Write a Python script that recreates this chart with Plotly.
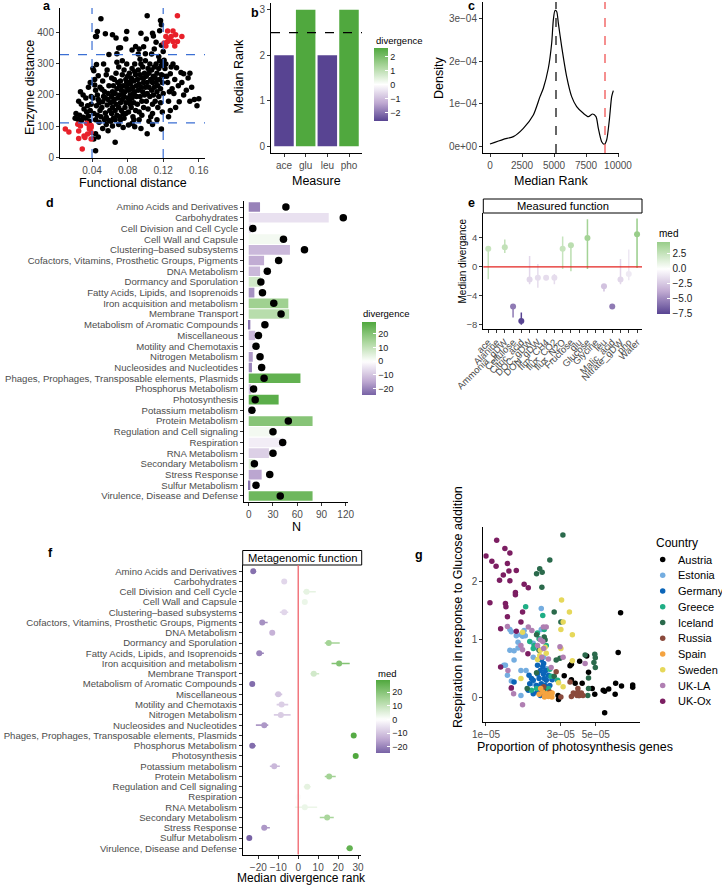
import plotly.graph_objects as go

# ------------------------------------------------------------------ data
# panel a : functional vs enzyme distance
a_black = [
    (0.050, 445), (0.102, 455), (0.117, 440), (0.044, 388), (0.046, 404), (0.055, 397), (0.063, 394),
    (0.067, 383), (0.079, 404), (0.078, 380), (0.095, 399), (0.108, 399), (0.109, 390), (0.116, 407),
    (0.118, 426), (0.101, 380), (0.059, 330), (0.070, 351), (0.089, 356), (0.093, 348), (0.100, 333),
    (0.110, 348), (0.115, 324), (0.045, 388), (0.072, 352), (0.098, 355), (0.112, 370), (0.118, 360),
    (0.120, 340), (0.068, 333), (0.092, 332), (0.107, 332), (0.085, 345),
    (0.041, 285), (0.042, 278), (0.043, 250), (0.044, 215), (0.046, 200), (0.047, 185), (0.045, 165),
    (0.048, 175), (0.042, 140), (0.046, 135), (0.049, 150), (0.044, 120), (0.048, 112), (0.043, 232),
    (0.047, 262), (0.049, 225), (0.041, 190), (0.045, 298), (0.050, 130),
    (0.038, 240), (0.036, 225), (0.027, 210), (0.030, 200), (0.033, 190), (0.039, 195), (0.025, 180),
    (0.028, 170), (0.035, 165), (0.039, 170), (0.022, 140), (0.026, 135), (0.030, 128), (0.034, 145),
    (0.038, 150), (0.024, 122), (0.028, 118), (0.033, 125), (0.037, 115), (0.021, 125), (0.031, 155),
    (0.036, 132),
    (0.044, 20), (0.066, 48), (0.047, 65), (0.052, 92), (0.058, 85), (0.063, 100), (0.070, 105),
    (0.075, 95), (0.081, 103), (0.088, 98), (0.095, 92), (0.102, 75), (0.118, 90), (0.044, 75),
    (0.042, 58), (0.056, 105), (0.085, 108), (0.108, 105),
    (0.051, 160), (0.052, 178), (0.053, 195), (0.054, 210), (0.055, 142), (0.056, 128), (0.057, 168),
    (0.058, 185), (0.059, 230), (0.052, 245), (0.054, 120), (0.056, 265), (0.058, 205), (0.060, 150),
    (0.053, 300), (0.057, 280), (0.059, 118), (0.055, 190), (0.051, 218),
    (0.061, 115), (0.061, 175), (0.062, 195), (0.062, 140), (0.063, 210), (0.063, 160), (0.064, 125),
    (0.064, 230), (0.065, 185), (0.065, 250), (0.066, 150), (0.066, 205), (0.067, 170), (0.067, 270),
    (0.068, 135), (0.068, 220), (0.069, 190), (0.069, 240), (0.070, 160), (0.070, 290), (0.062, 255),
    (0.066, 120), (0.068, 305), (0.064, 180),
    (0.071, 130), (0.071, 200), (0.072, 175), (0.072, 245), (0.073, 150), (0.073, 215), (0.074, 185),
    (0.074, 265), (0.075, 140), (0.075, 230), (0.076, 195), (0.076, 280), (0.077, 160), (0.077, 210),
    (0.078, 250), (0.078, 175), (0.079, 225), (0.079, 300), (0.080, 190), (0.080, 260), (0.072, 120),
    (0.076, 125), (0.074, 310), (0.078, 140), (0.071, 230), (0.075, 205), (0.079, 240),
    (0.081, 145), (0.081, 215), (0.082, 180), (0.082, 270), (0.083, 235), (0.083, 200), (0.084, 160),
    (0.084, 255), (0.085, 190), (0.085, 285), (0.086, 225), (0.086, 130), (0.087, 245), (0.087, 175),
    (0.088, 210), (0.088, 300), (0.089, 265), (0.089, 150), (0.090, 230), (0.090, 195), (0.082, 240),
    (0.084, 220), (0.086, 205), (0.088, 275), (0.083, 170), (0.087, 120), (0.085, 250),
    (0.091, 170), (0.091, 250), (0.092, 215), (0.092, 280), (0.093, 145), (0.093, 235), (0.094, 195),
    (0.094, 265), (0.095, 225), (0.095, 300), (0.096, 180), (0.096, 255), (0.097, 210), (0.097, 290),
    (0.098, 160), (0.098, 240), (0.099, 270), (0.099, 200), (0.100, 225), (0.100, 310), (0.093, 120),
    (0.096, 135), (0.094, 315), (0.098, 255),
    (0.101, 180), (0.101, 260), (0.102, 240), (0.102, 205), (0.103, 285), (0.103, 155), (0.104, 225),
    (0.104, 270), (0.105, 195), (0.105, 300), (0.106, 250), (0.106, 130), (0.107, 215), (0.107, 280),
    (0.108, 170), (0.108, 240), (0.109, 260), (0.109, 200), (0.110, 290), (0.110, 225), (0.104, 115),
    (0.108, 140),
    (0.111, 180), (0.111, 255), (0.112, 240), (0.112, 300), (0.113, 210), (0.113, 270), (0.114, 160),
    (0.114, 230), (0.115, 285), (0.115, 195), (0.116, 250), (0.116, 310), (0.117, 220), (0.117, 175),
    (0.118, 265), (0.118, 295), (0.119, 240), (0.120, 205), (0.120, 300), (0.121, 312), (0.121, 260),
    (0.119, 145), (0.122, 285), (0.113, 120),
    (0.131, 300), (0.135, 288), (0.140, 272), (0.143, 268), (0.150, 270), (0.148, 255), (0.141, 240),
    (0.133, 250), (0.128, 268), (0.125, 240), (0.137, 230), (0.146, 215), (0.152, 225), (0.155, 185),
    (0.160, 188), (0.158, 165), (0.150, 180), (0.143, 200), (0.130, 220), (0.127, 210), (0.132, 205),
    (0.138, 178), (0.126, 180), (0.124, 260), (0.123, 300), (0.129, 290), (0.134, 160), (0.128, 150),
    (0.126, 130),
]
a_red = [
    (0.136, 455), (0.125, 406), (0.131, 406), (0.123, 388), (0.129, 388), (0.134, 394), (0.141, 388),
    (0.125, 372), (0.121, 367), (0.131, 372), (0.136, 372), (0.123, 358), (0.133, 358), (0.127, 380),
    (0.010, 90), (0.014, 81), (0.024, 106), (0.027, 100), (0.034, 109), (0.039, 102), (0.039, 95),
    (0.037, 90), (0.025, 84), (0.039, 79), (0.031, 68), (0.035, 74), (0.025, 60), (0.032, 63),
    (0.039, 58), (0.029, 26), (0.037, 98),
]
a_x_cuts = [0.04, 0.12]
a_y_cuts = [110, 330]

# panel b : median rank per measure
b_measures = ["ace", "glu", "leu", "pho"]
b_rank = [2, 3, 2, 3]
b_divergence = [-2.6, 2.6, -2.6, 2.6]
b_threshold = 2.5

# panel c : density of median rank
c_rank = [0, 1042, 1823, 2604, 3385, 3906, 4167, 4557, 4818, 4948, 5078, 5208, 5339, 5599, 5990,
          6380, 6771, 7292, 7682, 8021, 8281, 8464, 8724, 8932, 9114, 9323, 9505, 9635]
c_density = [0.047e-4, 0.158e-4, 0.221e-4, 0.418e-4, 0.733e-4, 1.166e-4, 1.363e-4, 1.836e-4, 2.427e-4,
             2.979e-4, 3.199e-4, 3.176e-4, 2.900e-4, 2.348e-4, 1.639e-4, 1.166e-4, 0.930e-4, 0.772e-4,
             0.693e-4, 0.756e-4, 0.693e-4, 0.418e-4, 0.102e-4, 0.039e-4, 0.142e-4, 0.615e-4, 1.166e-4,
             1.308e-4]
c_median_rank = 5156
c_observed_rank = 8984

# panel d / f : subsystem categories
subsystems = [
    "Amino Acids and Derivatives", "Carbohydrates", "Cell Division and Cell Cycle", "Cell Wall and Capsule",
    "Clustering–based subsystems", "Cofactors, Vitamins, Prosthetic Groups, Pigments", "DNA Metabolism",
    "Dormancy and Sporulation", "Fatty Acids, Lipids, and Isoprenoids", "Iron acquisition and metabolism",
    "Membrane Transport", "Metabolism of Aromatic Compounds", "Miscellaneous", "Motility and Chemotaxis",
    "Nitrogen Metabolism", "Nucleosides and Nucleotides",
    "Phages, Prophages, Transposable elements, Plasmids", "Phosphorus Metabolism", "Photosynthesis",
    "Potassium metabolism", "Protein Metabolism", "Regulation and Cell signaling", "Respiration",
    "RNA Metabolism", "Secondary Metabolism", "Stress Response", "Sulfur Metabolism",
    "Virulence, Disease and Defense",
]
d_bar_n = [14, 99, 3, 42, 51, 19, 14, 15, 7, 49, 50, 2, 8, 6, 5, 4, 64, 3, 37, 2, 79, 32, 42, 25, 8, 16, 2, 79]
d_point_n = [46, 117, 5, 43, 69, 37, 23, 15, 17, 31, 40, 20, 12, 9, 14, 16, 19, 6, 8, 4, 49, 30, 42, 30, 7, 26, 9, 39]
d_divergence = [-20, -5, -5, 2, -12, -14, -12, 8, -18, 16, 12, -22, -12, -3, -17, -20, 26, -12, 27, -4,
                20, 2, -3, -8, 6, -15, -22, 24]

f_med = [-22.5, -7, 4.2, 3.3, -7, -18, -13, 15.3, -19.5, 20.5, 7.8, -23, -10, -8.3, -8.7, -17, 27.8, -23,
         28.8, -12, 15.5, 4.5, 0, 3.3, 14.5, -17, -24.5, 25.8]
f_lo = [-23.5, -7.5, 2.5, 2.8, -9.2, -19, -13.5, 13.3, -20.8, 16.7, 6.2, -24.2, -11.7, -10.8, -12.2, -21.2,
        27.5, -24.2, 28.5, -14.2, 13.3, 2.8, -1.7, -1.7, 10.8, -18.3, -25, 24.2]
f_hi = [-21.5, -6.5, 8.8, 4.0, -5, -15.3, -12.5, 20.8, -17.2, 25.8, 10.5, -21.7, -8, -5, -3.8, -15, 28.2,
        -21.3, 29.2, -9.2, 18.8, 6.2, 2.8, 9.5, 17.8, -14.2, -24, 27.2]

# panel e : measured function
e_measures = ["ace", "Alanine", "Ammonia_gDW", "Cellulose", "Citric_acid", "DOC_gDW", "DON_gDW", "flux_CH4",
              "flux_CO2", "flux_N2O", "Fructose", "glu", "Glucose", "Glycine", "leu", "Malic_acid",
              "Nitrate_gDW", "pho", "Water"]
e_med = [2.5, 0.0, 2.7, -5.5, -7.5, -1.75, -1.5, -1.5, -1.5, 2.5, 3.0, 0.0, 4.0, 0.0, -2.7, -5.5, -1.75, -1.0, 4.5]
e_lo = [-1.7, -2.6, 1.9, -7.0, -8.0, -2.4, -2.9, -1.85, -2.4, -0.3, -0.6, -2.4, -0.3, -1.7, -3.4, -5.8, -2.4,
        -1.85, -0.15]
e_hi = [2.9, 2.4, 3.8, -5.3, -6.3, 1.5, 0.4, -1.2, -1.0, 4.2, 3.3, 2.9, 6.6, 2.4, -2.4, -5.2, 1.1, 2.4, 6.7]

# panel g : photosynthesis genes vs respiration
g_countries = ["Austria", "Estonia", "Germany", "Greece", "Iceland", "Russia", "Spain", "Sweden", "UK-LA", "UK-Ox"]
g_austria = [(7.2e-5, 1.47), (6.95e-5, 0.78), (4.38e-5, 0.72), (3.95e-5, 0.63), (3.43e-5, 0.55), (3.5e-5, 0.58),
             (3.15e-5, 0.38), (3.5e-5, 0.31), (3.7e-5, 0.25), (4.1e-5, 0.25), (4.5e-5, 0.44), (4.75e-5, 0.16),
             (4.93e-5, 0.06), (5.58e-5, 0.13), (5.7e-5, 0.11), (6.05e-5, 0.15), (6.7e-5, 0.25), (6.65e-5, 0.06),
             (7.3e-5, 0.20), (8.6e-5, 0.22), (8.6e-5, 0.18), (3.9e-5, 0.04), (2.9e-5, -0.03), (5.7e-5, -0.26),
             (2.88e-5, 0.04)]
g_estonia = [(2.25e-5, 1.54), (1.42e-5, 1.18), (1.45e-5, 1.14), (1.56e-5, 1.07), (1.67e-5, 1.09), (1.75e-5, 1.16),
             (1.71e-5, 1.06), (1.78e-5, 1.07), (1.42e-5, 0.82), (1.51e-5, 0.81), (1.6e-5, 0.96), (1.6e-5, 0.86),
             (1.30e-5, 0.56), (1.33e-5, 0.56), (1.51e-5, 0.65), (1.37e-5, 0.39), (1.67e-5, 0.47), (1.67e-5, 0.04),
             (1.45e-5, 0.29), (2.0e-5, 0.70), (2.13e-5, 0.86), (2.25e-5, 1.18), (2.0e-5, 0.94), (2.44e-5, 0.50),
             (2.33e-5, 0.70), (1.80e-5, 0.47), (2.0e-5, 0.24), (2.5e-5, 0.33)]
g_germany = [(1.51e-5, 0.27), (1.88e-5, 0.39), (1.9e-5, 0.24), (2.0e-5, 0.30), (2.1e-5, 0.21), (2.13e-5, 0.41),
             (2.18e-5, 0.33), (2.22e-5, 0.47), (2.25e-5, 0.24), (2.3e-5, 0.54), (2.32e-5, 0.41), (2.35e-5, 0.33),
             (2.4e-5, 0.47), (2.42e-5, 0.30), (2.5e-5, 0.39), (2.55e-5, 0.21), (2.13e-5, 0.10), (2.22e-5, 0.04),
             (2.0e-5, 0.07), (2.3e-5, 0.14), (1.86e-5, 0.13), (2.33e-5, 0.59), (2.25e-5, 0.65), (2.64e-5, 0.31),
             (2.13e-5, 0.56), (2.38e-5, 0.21), (1.95e-5, 0.33), (2.53e-5, 0.10), (2.2e-5, 0.18)]
g_greece = [(1.79e-5, 1.57), (2.3e-5, 1.42), (2.13e-5, 1.12), (2.35e-5, 1.18), (1.9e-5, 0.97), (2.0e-5, 0.85),
            (2.03e-5, 0.90), (2.18e-5, 1.02), (2.42e-5, 0.90), (2.55e-5, 0.49), (2.6e-5, 0.37), (1.95e-5, 0.13),
            (2.33e-5, 0.10), (2.5e-5, 0.16), (2.86e-5, 0.30), (2.1e-5, 0.16)]
g_iceland = [(3.09e-5, 2.81), (2.55e-5, 2.38), (2.10e-5, 2.14), (2.20e-5, 2.23), (2.28e-5, 2.17), (2.27e-5, 1.91),
             (2.72e-5, 1.48), (3.00e-5, 1.31), (2.10e-5, 1.09), (2.35e-5, 1.05), (2.38e-5, 1.00), (2.18e-5, 0.82),
             (2.80e-5, 0.65), (2.96e-5, 0.68), (4.28e-5, 0.74), (4.93e-5, 0.75), (4.97e-5, 0.69), (4.87e-5, 0.61),
             (4.97e-5, 0.52), (4.50e-5, 0.34), (4.50e-5, 0.16), (4.45e-5, 0.04), (2.10e-5, 0.43), (2.72e-5, 0.37),
             (2.33e-5, 0.13), (1.83e-5, 0.16)]
g_russia = [(2.22e-5, 0.07), (2.33e-5, 0.19), (2.55e-5, 0.10), (2.8e-5, 0.45), (3.43e-5, 0.27), (3.5e-5, 0.02),
            (3.6e-5, 0.08), (3.7e-5, 0.07), (3.8e-5, 0.04), (3.85e-5, 0.10), (3.95e-5, 0.04), (4.05e-5, 0.08),
            (4.15e-5, 0.04), (3.85e-5, 0.16), (3.0e-5, 0.01)]
g_spain = [(2.23e-5, 0.16), (2.3e-5, 0.10), (2.38e-5, 0.04), (2.42e-5, 0.07), (2.5e-5, 0.02), (2.55e-5, 0.07),
           (2.6e-5, 0.04), (2.64e-5, 0.08), (2.36e-5, 0.01), (2.18e-5, 0.06), (2.63e-5, 0.01)]
g_sweden = [(3.03e-5, 1.69), (3.4e-5, 1.48), (3.1e-5, 1.31), (3.0e-5, 1.18), (3.55e-5, 1.09), (3.0e-5, 0.85),
            (2.2e-5, 0.73), (2.38e-5, 0.87), (3.55e-5, 0.64), (3.1e-5, 0.19), (1.67e-5, 0.33), (2.22e-5, 0.82),
            (1.71e-5, 1.13), (2.42e-5, 0.77), (2.9e-5, 0.26), (2.13e-5, 0.66)]
g_ukla = [(1.37e-5, 1.23), (1.67e-5, 0.90), (1.86e-5, 1.22), (1.96e-5, 1.16), (2.22e-5, 1.0), (2.3e-5, 0.97),
          (2.32e-5, 1.22), (2.42e-5, 1.22), (2.27e-5, 0.70), (2.13e-5, 0.90), (2.33e-5, 0.85), (2.6e-5, 0.52),
          (1.71e-5, -0.12), (1.45e-5, 0.16), (1.5e-5, 0.07), (1.38e-5, 0.47), (2.96e-5, 0.88), (3.1e-5, 0.70),
          (4.28e-5, 0.59), (1.71e-5, 0.83), (2.5e-5, 0.67)]
g_ukox = [(1.17e-5, 2.72), (1.32e-5, 2.58), (1.00e-5, 2.45), (1.42e-5, 2.50), (1.09e-5, 2.36), (1.16e-5, 2.27),
          (1.37e-5, 2.32), (1.29e-5, 2.12), (1.40e-5, 2.19), (1.56e-5, 2.20), (1.22e-5, 2.03), (1.42e-5, 2.02),
          (1.75e-5, 1.96), (1.86e-5, 1.90), (1.06e-5, 1.64), (1.33e-5, 1.63), (1.34e-5, 1.57), (1.54e-5, 1.82),
          (1.54e-5, 1.78), (1.37e-5, 1.40), (1.71e-5, 1.48), (1.67e-5, 1.31), (1.24e-5, 1.19), (1.56e-5, 1.15),
          (1.24e-5, 0.53), (1.45e-5, 0.17), (1.85e-5, 0.76)]
g_data = [g_austria, g_estonia, g_germany, g_greece, g_iceland, g_russia, g_spain, g_sweden, g_ukla, g_ukox]

# ------------------------------------------------------------------ styling helpers
W, H = 722, 885
FONT = "Liberation Sans, Arial, Helvetica, sans-serif"
TICK_FONT = dict(size=10, color="#4d4d4d", family=FONT)
CAT_FONT = dict(size=9.6, color="#4d4d4d", family=FONT)
g_palette = ["#000000", "#74ADE0", "#0B65B8", "#1FAE85", "#2B6A4C", "#8B4A3C", "#F4A340", "#E6D85A",
             "#B07FB2", "#7C1E62"]

P_END, P_MID = (88, 68, 146), (192, 170, 210)
G_END, G_MID = (80, 168, 62), (170, 214, 156)


def div_color(v, vmax):
    t = max(-1.0, min(1.0, v / vmax))
    a = abs(t)
    mid, end = (G_MID, G_END) if t >= 0 else (P_MID, P_END)
    if a <= 0.5:
        s = a / 0.5
        c = [255 + (m - 255) * s for m in mid]
    else:
        s = (a - 0.5) / 0.5
        c = [m + (e - m) * s for m, e in zip(mid, end)]
    return "rgb(%d,%d,%d)" % tuple(int(round(x)) for x in c)


def div_scale(lo, hi, n=41):
    vmax = max(abs(lo), abs(hi))
    return [[i / (n - 1), div_color(lo + (hi - lo) * i / (n - 1), vmax)] for i in range(n)]


def dx(a, b):
    return [a / W, b / W]


def dy(top, bottom):
    return [1 - bottom / H, 1 - top / H]


def axis(domain, rng, anchor, **kw):
    d = dict(domain=domain, range=rng, anchor=anchor, showline=True, linecolor="black", linewidth=1,
             ticks="outside", ticklen=3, tickwidth=1, tickcolor="#333333", tickfont=TICK_FONT,
             showgrid=False, zeroline=False, fixedrange=True, automargin=False)
    d.update(kw)
    return d


def cbar(x_left, y_top, length, thick, tickvals, fmt=None, size=9):
    c = dict(x=x_left / W, xanchor="left", y=1 - y_top / H, yanchor="top", len=length, lenmode="pixels",
             thickness=thick, thicknessmode="pixels", xpad=0, ypad=0, outlinewidth=0, tickvals=tickvals,
             ticks="inside", ticklen=3, tickcolor="white", tickfont=dict(size=size, color="#1a1a1a", family=FONT),
             title=dict(text=""))
    if fmt:
        c["tickformat"] = fmt
    return c


annotations = []


def txt(x, y, s, size=12.5, angle=0, xanchor="center", bold=False, color="black"):
    annotations.append(dict(x=x / W, y=1 - y / H, xref="paper", yref="paper",
                            text=("<b>%s</b>" % s) if bold else s, showarrow=False, textangle=angle,
                            font=dict(size=size, color=color, family=FONT), xanchor=xanchor, yanchor="middle"))


shapes = []
fig = go.Figure()

# ------------------------------------------------------------------ panel a
fig.add_trace(go.Scatter(x=[p[0] for p in a_black], y=[p[1] for p in a_black], mode="markers",
                         marker=dict(color="black", size=5.5), xaxis="x", yaxis="y"))
fig.add_trace(go.Scatter(x=[p[0] for p in a_red], y=[p[1] for p in a_red], mode="markers",
                         marker=dict(color="#E8202A", size=5.5), xaxis="x", yaxis="y"))
for v in a_x_cuts:
    shapes.append(dict(type="line", xref="x", yref="y domain", x0=v, x1=v, y0=0, y1=1,
                       line=dict(color="#3B6FD4", width=1.2, dash="dash")))
for v in a_y_cuts:
    shapes.append(dict(type="line", xref="x domain", yref="y", x0=0, x1=1, y0=v, y1=v,
                       line=dict(color="#3B6FD4", width=1.2, dash="dash")))

# ------------------------------------------------------------------ panel b
fig.add_trace(go.Bar(x=b_measures, y=b_rank, width=0.9, xaxis="x2", yaxis="y2",
                     marker=dict(color=b_divergence, coloraxis="coloraxis", line=dict(width=0))))
shapes.append(dict(type="line", xref="x2 domain", yref="y2", x0=0, x1=1, y0=b_threshold, y1=b_threshold,
                   line=dict(color="black", width=1.2, dash="dash")))

# ------------------------------------------------------------------ panel c
fig.add_trace(go.Scatter(x=c_rank, y=c_density, mode="lines", line=dict(color="black", width=1.2, shape="spline",
                                                                        smoothing=0.7),
                         xaxis="x3", yaxis="y3"))
shapes.append(dict(type="line", xref="x3", yref="y3 domain", x0=c_median_rank, x1=c_median_rank, y0=0, y1=1,
                   line=dict(color="black", width=1.2, dash="dash")))
shapes.append(dict(type="line", xref="x3", yref="y3 domain", x0=c_observed_rank, x1=c_observed_rank, y0=0, y1=1,
                   line=dict(color="#F26B6B", width=1.5, dash="dash")))

# ------------------------------------------------------------------ panel d
fig.add_trace(go.Bar(y=subsystems, x=d_bar_n, orientation="h", width=0.9, xaxis="x4", yaxis="y4",
                     marker=dict(color=d_divergence, coloraxis="coloraxis2", line=dict(width=0))))
fig.add_trace(go.Scatter(y=subsystems, x=d_point_n, mode="markers", marker=dict(color="black", size=7.5),
                         xaxis="x4", yaxis="y4"))

# ------------------------------------------------------------------ panel e
E_MIN, E_MAX = -7.5, 4.5
for m, md, lo, hi in zip(e_measures, e_med, e_lo, e_hi):
    fig.add_trace(go.Scatter(x=[m, m], y=[lo, hi], mode="lines",
                             line=dict(color=div_color(md, max(abs(E_MIN), abs(E_MAX))), width=1.5),
                             xaxis="x5", yaxis="y5"))
shapes.append(dict(type="line", xref="x5 domain", yref="y5", x0=0, x1=1, y0=0, y1=0,
                   line=dict(color="#E3231F", width=1.2)))
fig.add_trace(go.Scatter(x=e_measures, y=e_med, mode="markers", xaxis="x5", yaxis="y5",
                         marker=dict(color=e_med, coloraxis="coloraxis3", size=6)))

# ------------------------------------------------------------------ panel f
F_MIN, F_MAX = -24.5, 28.8
for s, md, lo, hi in zip(subsystems, f_med, f_lo, f_hi):
    fig.add_trace(go.Scatter(x=[lo, hi], y=[s, s], mode="lines",
                             line=dict(color=div_color(md, max(abs(F_MIN), abs(F_MAX))), width=1.6),
                             xaxis="x6", yaxis="y6"))
shapes.append(dict(type="line", xref="x6", yref="y6 domain", x0=0, x1=0, y0=0, y1=1,
                   line=dict(color="#F0626A", width=1.3)))
fig.add_trace(go.Scatter(y=subsystems, x=f_med, mode="markers", xaxis="x6", yaxis="y6",
                         marker=dict(color=f_med, coloraxis="coloraxis4", size=6)))

# ------------------------------------------------------------------ panel g
for name, pts, col in zip(g_countries, g_data, g_palette):
    fig.add_trace(go.Scatter(x=[p[0] for p in pts], y=[p[1] for p in pts], mode="markers", name=name,
                             marker=dict(color=col, size=5.5), xaxis="x7", yaxis="y7"))

# manual legend for g (small pixel-space subplot restricted to the legend area)
LEG_X, LEG_Y0, LEG_STEP = 662.7, 559.5, 15.75
fig.add_trace(go.Scatter(x=[LEG_X] * len(g_countries), y=[LEG_Y0 + i * LEG_STEP for i in range(len(g_countries))],
                         mode="markers", marker=dict(color=g_palette, size=5.5), xaxis="x8", yaxis="y8",
                         hoverinfo="skip", cliponaxis=False))
txt(654, 543, "Country", size=12, xanchor="left")
for i, name in enumerate(g_countries):
    txt(676, LEG_Y0 + i * LEG_STEP, name, size=11, xanchor="left")

# ------------------------------------------------------------------ strips
shapes.append(dict(type="rect", xref="paper", yref="paper", x0=483.3 / W, x1=642 / W, y0=1 - 213 / H, y1=1 - 199 / H,
                   line=dict(color="black", width=1), fillcolor="white", layer="below"))
txt(562.6, 206, "Measured function", size=11.2)
shapes.append(dict(type="rect", xref="paper", yref="paper", x0=242.7 / W, x1=361.7 / W, y0=1 - 565 / H,
                   y1=1 - 550.5 / H, line=dict(color="black", width=1), fillcolor="white", layer="below"))
txt(302.2, 558, "Metagenomic function", size=11.2)

# ------------------------------------------------------------------ titles & labels
for lab, x, y in [("a", 47, 6), ("b", 255, 13), ("c", 471, 6), ("d", 50, 203), ("e", 471, 203),
                  ("f", 50, 553), ("g", 419, 555)]:
    txt(x, y, lab, size=12.5, bold=True)

txt(30, 88, "Enzyme distance", angle=-90)
txt(132.5, 183, "Functional distance")
txt(238.5, 77, "Median Rank", angle=-90)
txt(316.5, 180.5, "Measure")
txt(439, 78, "Density", angle=-90)
txt(551, 180.5, "Median Rank")
txt(296.5, 526.5, "N")
txt(461.5, 261, "Median divergance", size=10, angle=-90)
txt(301.7, 877.8, "Median divergence rank", size=12)
txt(458, 607, "Respiration in response to Glucose addition", angle=-90)
txt(575, 747, "Proportion of photosynthesis genes")
txt(374, 40, "divergence", size=9.5, xanchor="left")
txt(361, 313, "divergence", size=9.5, xanchor="left")
txt(656.5, 233, "med", size=10, xanchor="left")
txt(375.5, 673, "med", size=9.5, xanchor="left")

# ------------------------------------------------------------------ layout
fig.update_layout(
    width=W, height=H, margin=dict(l=0, r=0, t=0, b=0, autoexpand=False), paper_bgcolor="white",
    plot_bgcolor="rgba(0,0,0,0)",
    showlegend=False, font=dict(family=FONT, color="black"), bargap=0.1,
    xaxis=axis(dx(60, 205), [0.004, 0.167], "y", tickvals=[0.04, 0.08, 0.12, 0.16], tickformat=".2f"),
    yaxis=axis(dy(8, 158), [-3, 480], "x", tickvals=[0, 100, 200, 300, 400]),
    xaxis2=axis(dx(271, 362), [-0.6, 3.6], "y2", type="category", categoryorder="array", categoryarray=b_measures,
                tickmode="array", tickvals=b_measures, ticktext=b_measures),
    yaxis2=axis(dy(3, 153), [-0.15, 3.15], "x2", tickvals=[0, 1, 2, 3]),
    xaxis3=axis(dx(483, 619), [-547, 10078], "y3", tickvals=[0, 2500, 5000, 7500, 10000], tickformat="d"),
    yaxis3=axis(dy(2, 153), [-0.165e-4, 3.40e-4], "x3", tickvals=[0, 1e-4, 2e-4, 3e-4],
                ticktext=["0e+00", "1e\u221204", "2e\u221204", "3e\u221204"]),
    xaxis4=axis(dx(244, 348), [-5.85, 122.85], "y4", tickvals=[0, 30, 60, 90, 120]),
    yaxis4=axis(dy(200.6, 502.4), [27.6, -0.6], "x4", type="category", categoryorder="array",
                categoryarray=subsystems, tickmode="array", tickvals=subsystems, ticktext=subsystems,
                tickfont=CAT_FONT),
    xaxis5=axis(dx(483.3, 642), [-0.6, 18.6], "y5", type="category", categoryorder="array",
                categoryarray=e_measures, tickmode="array", tickvals=e_measures, ticktext=e_measures,
                tickangle=-45, tickfont=dict(size=9.5, color="#4d4d4d", family=FONT)),
    yaxis5=axis(dy(213, 329), [-8.6, 7.45], "x5", tickvals=[-8, -4, 0, 4],
                tickfont=dict(size=9.5, color="#4d4d4d", family=FONT)),
    xaxis6=axis(dx(242.7, 360.7), [-27.8, 31.3], "y6", tickvals=[-20, -10, 0, 10, 20, 30]),
    yaxis6=axis(dy(565, 854.5), [27.6, -0.6], "x6", type="category", categoryorder="array",
                categoryarray=subsystems, tickmode="array", tickvals=subsystems, ticktext=subsystems,
                tickfont=CAT_FONT),
    xaxis7=axis(dx(483.3, 640), [-5.017, -4.019], "y7", type="log", tickvals=[1e-5, 3e-5, 5e-5],
                ticktext=["1e\u221205", "3e\u221205", "5e\u221205"]),
    yaxis7=axis(dy(527, 722), [-0.42, 2.95], "x7", tickvals=[0, 1, 2]),
    xaxis8=dict(domain=dx(650, 722), range=[650, 722], visible=False, fixedrange=True, anchor="y8"),
    yaxis8=dict(domain=dy(540, 712), range=[712, 540], visible=False, fixedrange=True, anchor="x8"),
    coloraxis=dict(cmin=-2.6, cmax=2.6, colorscale=div_scale(-2.6, 2.6),
                   colorbar=cbar(374, 48.3, 73.4, 14, [-2, -1, 0, 1, 2])),
    coloraxis2=dict(cmin=F_MIN, cmax=F_MAX, colorscale=div_scale(F_MIN, F_MAX),
                    colorbar=cbar(361.7, 321.7, 73.3, 14, [-20, -10, 0, 10, 20])),
    coloraxis3=dict(cmin=E_MIN, cmax=E_MAX, colorscale=div_scale(E_MIN, E_MAX),
                    colorbar=cbar(657, 241.7, 71.6, 13, [-7.5, -5, -2.5, 0, 2.5], fmt=".1f", size=10)),
    coloraxis4=dict(cmin=F_MIN, cmax=F_MAX, colorscale=div_scale(F_MIN, F_MAX),
                    colorbar=cbar(376, 680, 73.3, 14, [-20, -10, 0, 10, 20])),
    shapes=shapes,
    annotations=annotations,
)

# remove the browser's default 8px page margin so the figure sits at the window origin
fig.write_html("out.html", config={"displayModeBar": False},
               post_script="document.body.style.margin='0';document.body.style.padding='0';")
